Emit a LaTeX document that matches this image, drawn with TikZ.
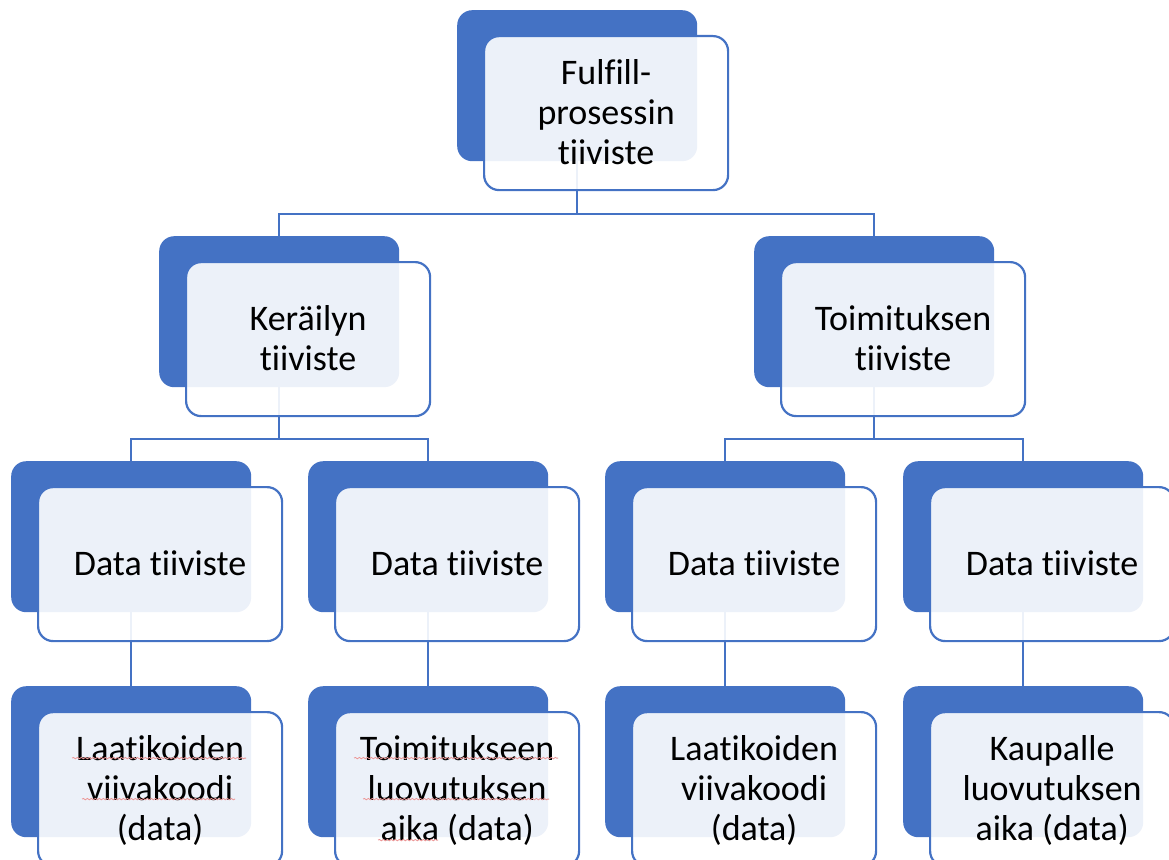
\documentclass[tikz,border=0pt]{standalone}
\usepackage{fontspec}
\setmainfont[Ligatures=NoCommon]{Carlito}
\usetikzlibrary{calc,decorations.pathmorphing}
\definecolor{accent}{RGB}{68,114,196}
\definecolor{spell}{RGB}{236,150,150}
\pgfdeclarelayer{bg}
\pgfsetlayers{bg,main}
\tikzset{
  backbox/.style={rectangle, rounded corners=15pt, fill=accent, draw=none,
    minimum width=240pt, minimum height=151pt, inner sep=0pt, anchor=north west},
  frontbox/.style={rectangle, rounded corners=15pt, fill=white, fill opacity=0.9,
    text opacity=1, draw=accent, line width=2.2pt, minimum width=244pt,
    minimum height=154pt, inner sep=0pt, anchor=north west, align=center,
    font=\fontsize{36}{40}\selectfont, text=black},
  conn/.style={draw=accent, line width=2.2pt},
  squiggle/.style={draw=spell, line width=0.8pt,
    decorate, decoration={snake, amplitude=0.7pt, segment length=4pt}}
}
% one element: blue backing card with a translucent labelled card on top
\newcommand\orgunit[4]{%
  \node[backbox] (#1B) at (#2,#3) {};
  \node[frontbox] (#1) at (#2+26,#3+25)
    {\raisebox{-3pt}[\height][\depth]{\begin{tabular}{@{}c@{}}#4\end{tabular}}};
}
\begin{document}
\begin{tikzpicture}[x=1pt,y=-1pt]
\useasboundingbox (0,0) rectangle (1169,859);
\clip (0,0) rectangle (1169,859);

% level 1
\orgunit{top}{457}{10}{Fulfill-\\prosessin\\tiiviste}
% level 2
\orgunit{ker}{159}{236}{Keräilyn\\tiiviste}
\orgunit{toi}{754}{236}{Toimituksen\\tiiviste}
% level 3
\orgunit{da}{11}{461}{Data tiiviste}
\orgunit{db}{308}{461}{Data tiiviste}
\orgunit{dc}{605}{461}{Data tiiviste}
\orgunit{dd}{903}{461}{Data tiiviste}
% level 4
\orgunit{la}{11}{686}{Laatikoiden\\viivakoodi\\(data)}
\orgunit{lb}{308}{686}{Toimitukseen\\luovutuksen\\aika (data)}
\orgunit{lc}{605}{686}{Laatikoiden\\viivakoodi\\(data)}
\orgunit{ld}{903}{686}{Kaupalle\\luovutuksen\\aika (data)}

% connectors, behind the cards
\coordinate (j0) at ($(top.south)!0.5!(kerB.north)$);
\coordinate (j1) at ($(ker.south)!0.5!(daB.north)$);
\coordinate (j2) at ($(toi.south)!0.5!(dcB.north)$);
\begin{pgfonlayer}{bg}
  \draw[conn] (topB.center) -- (topB.center |- j0) -| (kerB.north);
  \draw[conn] (topB.center |- j0) -| (toiB.north);
  \draw[conn] (kerB.center) -- (kerB.center |- j1) -| (daB.north);
  \draw[conn] (kerB.center |- j1) -| (dbB.north);
  \draw[conn] (toiB.center) -- (toiB.center |- j2) -| (dcB.north);
  \draw[conn] (toiB.center |- j2) -| (ddB.north);
  \draw[conn] (daB.center) -- (laB.north);
  \draw[conn] (dbB.center) -- (lbB.north);
  \draw[conn] (dcB.center) -- (lcB.north);
  \draw[conn] (ddB.center) -- (ldB.north);
\end{pgfonlayer}

% spelling marks under words
\draw[squiggle] ($(la.center)+(-88,-31)$) -- ($(la.center)+(86,-31)$);
\draw[squiggle] ($(la.center)+(-78,10)$) -- ($(la.center)+(75,10)$);
\draw[squiggle] ($(lb.center)+(-103,-31)$) -- ($(lb.center)+(101,-31)$);
\draw[squiggle] ($(lb.center)+(-94,10)$) -- ($(lb.center)+(92,10)$);
\draw[squiggle] ($(lb.center)+(-79,51)$) -- ($(lb.center)+(-19,51)$);
\end{tikzpicture}
\end{document}
